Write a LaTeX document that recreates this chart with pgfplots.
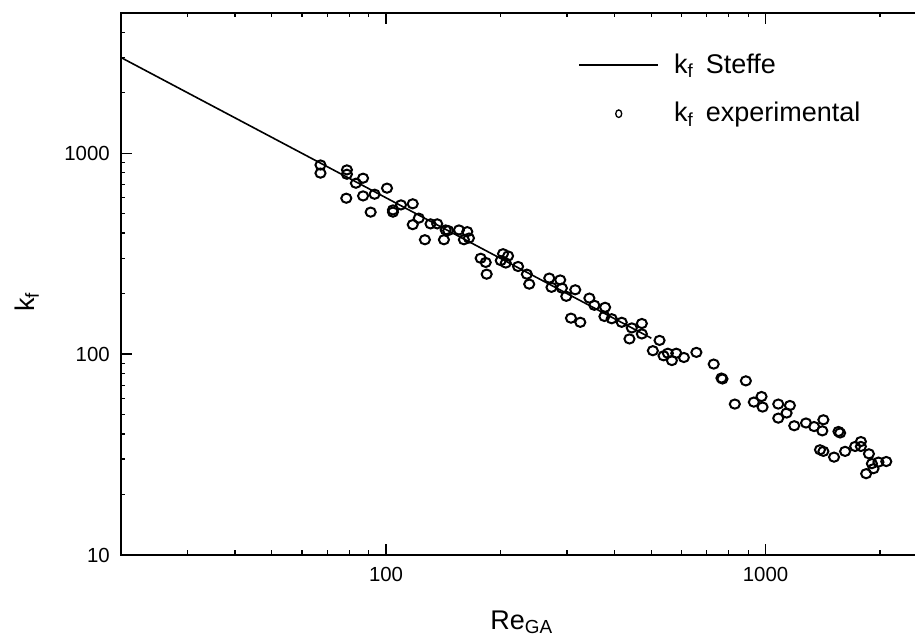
\documentclass[border=0pt]{standalone}
\usepackage{fontspec}
\setmainfont{Liberation Sans}
\usepackage{pgfplots}
\pgfplotsset{compat=1.18}

% Re_GA, k_f
\pgfplotstableread{
Re kf
67.2 874
67.2 796
78.9 826
78.9 786
78.6 597
83.3 709
87.0 751
87.0 613
93.3 625
91.1 509
100.6 670
104.3 522
104.3 509
109.5 553
117.6 560
122.0 475
117.6 441
126.6 371
131.0 445
136.4 445
143.6 415
145.8 412
142.1 371
155.7 415
163.7 407
160.4 371
165.4 378
177.6 300
183.1 286
184.2 250
203.4 316
209.7 308
200.6 292
206.8 284
222.8 273
235.0 250
238.4 223
269.2 239
287.7 234
272.9 215
290.7 213
298.5 194
315.2 209
307.1 151
325.0 144
343.4 190
353.9 175
377.8 171
376.2 154
393.2 150
417.8 144
444.2 135
472.1 142
472.1 126
437.9 119
525.6 117
504.7 104
538.5 98.1
552.8 101
581.8 101
566.5 92.9
609.3 96.2
657.3 102
730.1 89.2
765.1 76.0
770.0 75.2
887.3 73.6
829.8 56.4
931.2 57.7
975.8 61.5
982.0 54.5
1080 56.4
1159 55.5
1136 50.9
1080 48.0
1190 44.0
1278 45.4
1342 43.6
1420 47.1
1411 41.5
1556 41.2
1572 40.5
1391 33.4
1420 32.8
1515 30.7
1620 32.8
1722 34.7
1783 36.7
1783 34.7
1872 31.9
1906 28.5
1984 29.0
2080 29.2
1925 26.9
1841 25.4
}\expdata

\begin{document}
\begin{tikzpicture}
\begin{axis}[
    name=ax, at={(0,0)}, anchor=south west,
    scale only axis, width=397.95pt, height=271.1pt,
    xmode=log, ymode=log,
    xmin=20, xmax=2500, ymin=10, ymax=5000,
    xtick={100,1000}, xticklabels={100,1000},
    ytick={10,100,1000}, yticklabels={10,100,1000},
    minor xtick={20,30,40,50,60,70,80,90,200,300,400,500,600,700,800,900,2000},
    minor ytick={20,30,40,50,60,70,80,90,200,300,400,500,600,700,800,900,2000,3000,4000},
    ytick pos=left,
    tick align=inside,
    major tick length=5.5pt, minor tick length=2.3pt,
    every tick/.style={black, line width=0.7pt},
    axis line style={line width=0.85pt},
    tick label style={font=\fontsize{10.2}{12}\selectfont, inner sep=0pt},
    xticklabel style={yshift=-6pt},
    yticklabel style={xshift=-5.3pt},
    label style={font=\fontsize{13.5}{16}\selectfont},
    xlabel={Re\textsubscript{GA}},
    ylabel={k\textsubscript{f}},
    xlabel style={at={(axis description cs:0.504,-0.1365)}, anchor=base},
    ylabel style={at={(axis description cs:-0.1177,0.4666)}, anchor=center},
    legend style={draw=none, fill=none, at={(axis description cs:0.5746,0.925)},
        anchor=north west, inner sep=0pt, row sep=13pt, column sep=7.5pt,
        font=\fontsize{13.5}{16}\selectfont,
        nodes={inner sep=0pt}},
    legend cell align=left,
]
\addplot[black, line width=0.8pt,
    legend image code/.code={\draw[black, line width=0.8pt] (0pt,0pt) -- (39.5pt,0pt);}]
    coordinates {(20,3000) (500,120)};
\addlegendentry{k\textsubscript{f}\, Steffe}

\addplot[only marks, mark=o, mark size=2.3pt,
    mark options={black, xscale=1.1, line width=1pt},
    legend image code/.code={\draw[black, line width=0.65pt] (19.75pt,0pt) ellipse (1.5pt and 1.9pt);}]
    table[x=Re, y=kf] {\expdata};
\addlegendentry{k\textsubscript{f}\, experimental}
\end{axis}
\pgfresetboundingbox
\path[use as bounding box] (-60.35pt,-44pt) rectangle (397.15pt,277.5pt);
\end{tikzpicture}
\end{document}
